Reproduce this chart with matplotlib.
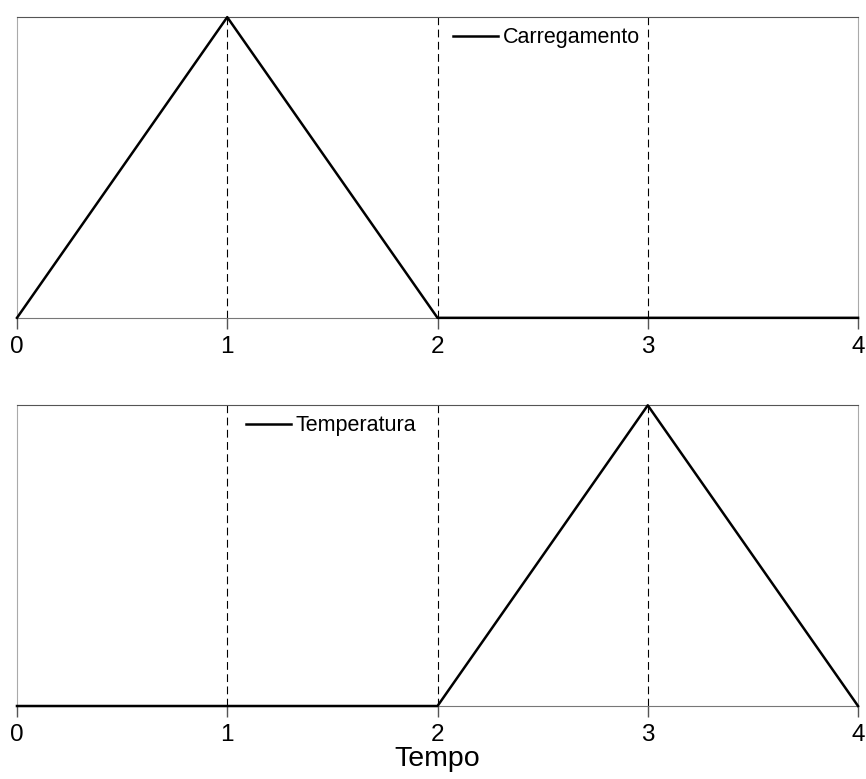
import matplotlib.pyplot as plt

plt.rcParams['font.family'] = ['Liberation Sans', 'DejaVu Sans']

# tempo e curvas
tempo_carga = [0, 1, 2, 3, 4]
carregamento = [0, 1, 0, 0, 0]
tempo_temp = [0, 1, 2, 3, 4]
temperatura = [0, 0, 0, 1, 0]
marcas = [1, 2, 3]
xticks = [0, 1, 2, 3, 4]

fig = plt.figure(figsize=(8.66, 7.79), dpi=100)
ax1 = fig.add_axes([0.0196, 0.592, 0.9712, 0.386])
ax2 = fig.add_axes([0.0196, 0.0937, 0.9712, 0.386])

series = [(ax1, tempo_carga, carregamento, 'Carregamento', (0.503, 1.01)),
          (ax2, tempo_temp, temperatura, 'Temperatura', (0.257, 1.01))]

for ax, t, y, label, anchor in series:
    for m in marcas:
        ax.axvline(m, color='black', lw=0.8, ls=(0, (7, 4)), zorder=1)
    ax.plot(t, y, color='black', lw=1.8, label=label, zorder=3, clip_on=False)
    ax.set_xlim(0, 4)
    ax.set_ylim(0, 1)
    ax.set_yticks([])
    ax.set_xticks(xticks)
    ax.tick_params(axis='x', direction='out', length=8, width=1, color='#555555',
                   labelsize=17.5, pad=5)
    ax.spines['top'].set_color('#555555')
    ax.spines['bottom'].set_color('#777777')
    ax.spines['left'].set_color('#aaaaaa')
    ax.spines['right'].set_color('#aaaaaa')
    ax.legend(loc='upper left', bbox_to_anchor=anchor, frameon=False, fontsize=15.5,
              handlelength=2.1, handletextpad=0.2, borderaxespad=0.2)

ax2.set_xlabel('Tempo', fontsize=20.5, labelpad=0)

fig.savefig('out.png', dpi=100)
